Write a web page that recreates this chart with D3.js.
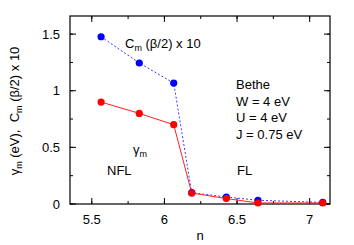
<!DOCTYPE html>
<html lang="en">
<head>
    <meta charset="UTF-8">
    <title>gamma_m</title>
    <script src="https://cdn.jsdelivr.net/npm/d3@7"></script>
    <style>
        html, body { margin: 0; padding: 0; background: #fff; overflow: hidden; }
        svg { display: block; }
        text { font-family: "Liberation Sans", Arial, sans-serif; }
    </style>
</head>
<body>
    <svg width="354" height="245" id="mainsvg"></svg>
    <script>
        // data
        const nValues = [5.564, 5.827, 6.064, 6.188, 6.426, 6.644, 7.09];
        const gammaM = [0.90, 0.80, 0.70, 0.097, 0.048, 0.009, 0.009];
        const cmScaled = [1.477, 1.245, 1.068, 0.10, 0.062, 0.033, 0.014];
        const xTicks = [5.5, 6, 6.5, 7];
        const yTicks = [0, 0.5, 1, 1.5];
        const infoLines = ['Bethe', 'W = 4 eV', 'U = 4 eV', 'J = 0.75 eV'];

        const svg = d3.select('#mainsvg');
        const margin = { top: 16, right: 24, bottom: 41, left: 70 };
        const innerWidth = 354 - margin.left - margin.right;
        const innerHeight = 245 - margin.top - margin.bottom;
        const g = svg.append('g')
            .attr('transform', `translate(${margin.left}, ${margin.top})`);

        const x = d3.scaleLinear().domain([5.35, 7.14]).range([0, innerWidth]);
        const y = d3.scaleLinear().domain([0, 1.66]).range([innerHeight, 0]);

        const minorX = d3.range(5.5, 7.01, 0.25);
        const minorY = d3.range(0, 1.51, 0.25);

        // inward ticks on all four sides
        function ticks(axis, scale, vals, len) {
            vals.forEach(v => {
                const p = scale(v);
                if (axis === 'x') {
                    g.append('line').attr('x1', p).attr('x2', p).attr('y1', innerHeight).attr('y2', innerHeight - len).attr('stroke', '#000');
                    g.append('line').attr('x1', p).attr('x2', p).attr('y1', 0).attr('y2', len).attr('stroke', '#000');
                } else {
                    g.append('line').attr('y1', p).attr('y2', p).attr('x1', 0).attr('x2', len).attr('stroke', '#000');
                    g.append('line').attr('y1', p).attr('y2', p).attr('x1', innerWidth).attr('x2', innerWidth - len).attr('stroke', '#000');
                }
            });
        }
        ticks('x', x, minorX, 3);
        ticks('x', x, xTicks, 6);
        ticks('y', y, minorY, 3);
        ticks('y', y, yTicks, 6);

        g.append('rect').attr('width', innerWidth).attr('height', innerHeight)
            .attr('fill', 'none').attr('stroke', '#000').attr('stroke-width', 1.2);

        g.selectAll('.xt').data(xTicks).join('text')
            .attr('x', d => x(d)).attr('y', innerHeight + 20)
            .attr('text-anchor', 'middle').attr('font-size', 13).text(d => d);
        g.selectAll('.yt').data(yTicks).join('text')
            .attr('x', -10).attr('y', d => y(d) + 4.5)
            .attr('text-anchor', 'end').attr('font-size', 13).text(d => d);

        const line = d3.line().x((d, i) => x(nValues[i])).y(d => y(d));

        g.append('path').attr('d', line(cmScaled)).attr('fill', 'none')
            .attr('stroke', '#3b3bff').attr('stroke-width', 1).attr('stroke-dasharray', '2,2');
        g.append('path').attr('d', line(gammaM)).attr('fill', 'none')
            .attr('stroke', '#ff2020').attr('stroke-width', 1);

        g.selectAll('.bp').data(cmScaled).join('circle')
            .attr('cx', (d, i) => x(nValues[i])).attr('cy', d => y(d)).attr('r', 3.6).attr('fill', '#0000ff');
        g.selectAll('.rp').data(gammaM).join('circle')
            .attr('cx', (d, i) => x(nValues[i])).attr('cy', d => y(d)).attr('r', 3.6).attr('fill', '#ff0000');

        // text with subscripts: pieces as separate text nodes, laid out left to right
        // parts: [string, isSub]
        function richText(parent, x0, y0, parts) {
            let cx = x0;
            const nodes = parts.map(([s, sub]) => {
                const t = parent.append('text').attr('x', cx).attr('y', sub ? y0 + 3 : y0)
                    .attr('font-size', sub ? 9 : 13).attr('xml:space', 'preserve').text(s);
                cx += t.node().getComputedTextLength();
                return t;
            });
            return cx - x0;
        }

        richText(g, 55, 32, [['C', 0], ['m', 1], [' (β/2) x 10', 0]]);
        richText(g, 63, 138, [['γ', 0], ['m', 1]]);

        g.append('text').attr('x', 37).attr('y', 159).attr('font-size', 13).text('NFL');
        g.append('text').attr('x', 167).attr('y', 159).attr('font-size', 13).text('FL');

        g.selectAll('.info').data(infoLines).join('text')
            .attr('x', 166).attr('y', (d, i) => 73 + i * 16.5)
            .attr('font-size', 13).text(d => d);

        svg.append('text').attr('x', margin.left + innerWidth / 2).attr('y', 240)
            .attr('text-anchor', 'middle').attr('font-size', 13).text('n');

        // rotated y label, centred on y = 111
        const yl = svg.append('g').attr('transform', 'translate(19, 111) rotate(-90)');
        const ylParts = [['γ', 0], ['m', 1], [' (eV),  C', 0], ['m', 1], [' (β/2) x 10', 0]];
        const w = richText(yl, 0, 0, ylParts);
        yl.selectAll('text').attr('x', function () { return +d3.select(this).attr('x') - w / 2; });
    </script>
</body>
</html>
